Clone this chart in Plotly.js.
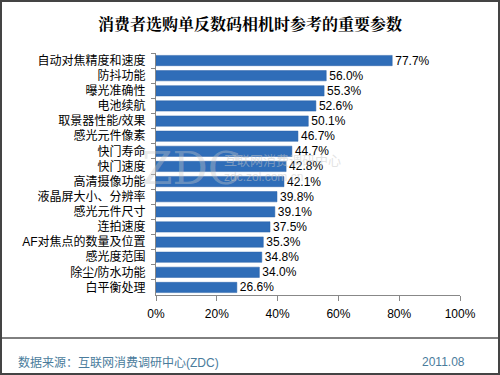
<!DOCTYPE html>
<html><head><meta charset="utf-8">
<script src="https://cdn.plot.ly/plotly-3.0.1.min.js"></script>
<style>html,body{margin:0;padding:0;background:#fff}#chart{width:500px;height:375px}</style>
</head><body><div id="chart"></div>
<script>
const categories = ["自动对焦精度和速度","防抖功能","曝光准确性","电池续航","取景器性能/效果","感光元件像素","快门寿命","快门速度","高清摄像功能","液晶屏大小、分辨率","感光元件尺寸","连拍速度","AF对焦点的数量及位置","感光度范围","除尘/防水功能","白平衡处理"];
const values = [77.7,56.0,55.3,52.6,50.1,46.7,44.7,42.8,42.1,39.8,39.1,37.5,35.3,34.8,34.0,26.6];
const xTickVals = [0,20,40,60,80,100];
const xTickText = ["0%","20%","40%","60%","80%","100%"];

const L=156, R=460, T=53, B=295;
const W=R-L, H=B-T;
const px=x=>(x-L)/W, py=y=>(B-y)/H;

const font = "Arial, 'Liberation Sans', 'Noto Sans CJK SC', sans-serif";
const trace = {
  type:'bar', orientation:'h',
  y:categories, x:values,
  marker:{color:'#2f6db8', line:{color:'#2a62a8', width:0.5}},
  text:values.map(v=>v.toFixed(1)+'%'),
  textposition:'outside', cliponaxis:false, constraintext:'none',
  textfont:{family:font,size:12,color:'#000'},
  hoverinfo:'none'
};
const layout = {
  width:500, height:375,
  margin:{l:L, r:500-R, t:T, b:375-B},
  paper_bgcolor:'#fff', plot_bgcolor:'#fff',
  showlegend:false,
  bargap:0.32,
  title:{text:'<b>消费者选购单反数码相机时参考的重要参数</b>', font:{family:"'Noto Serif CJK SC','Noto Sans CJK SC', serif", size:16, color:'#000'}, x:0.5, xanchor:'center', y:1-24/375, yanchor:'middle'},
  xaxis:{range:[0,100], tickvals:xTickVals, ticktext:xTickText, showgrid:false, zeroline:false,
    showline:true, linecolor:'#888', linewidth:1, ticks:'outside', ticklen:5, tickcolor:'#888',
    tickfont:{family:font,size:12,color:'#000'}, ticklabelstandoff:3, fixedrange:true},
  yaxis:{autorange:'reversed', tickmode:'linear', dtick:1, showline:true, linecolor:'#888', linewidth:1, ticks:'outside', ticklen:4, tickcolor:'#888',
    tickson:'boundaries', tickfont:{family:font,size:12,color:'#000'}, showgrid:false, ticklabelstandoff:7, fixedrange:true},
  shapes:[
    {type:'rect', xref:'paper', yref:'paper', x0:px(1), x1:px(499), y0:py(1), y1:py(374), line:{color:'#444',width:2}, fillcolor:'rgba(0,0,0,0)'},
    {type:'line', xref:'paper', yref:'paper', x0:px(2), x1:px(498), y0:py(338), y1:py(338), line:{color:'#000',width:1}}
  ],
  annotations:[
    {xref:'paper', yref:'paper', x:px(16), y:py(362), xanchor:'left', yanchor:'middle', showarrow:false, text:'数据来源：互联网消费调研中心(ZDC)', font:{family:font,size:12,color:'#4a7c9c'}},
    {xref:'paper', yref:'paper', x:px(467), y:py(362), xanchor:'right', yanchor:'middle', showarrow:false, text:'2011.08', font:{family:font,size:12,color:'#4a7c9c'}},
    {xref:'paper', yref:'paper', x:px(140), y:py(168), xanchor:'left', yanchor:'middle', showarrow:false, text:'ZDC', font:{family:"'DejaVu Serif', serif",size:44,color:'rgba(200,200,200,0.4)'}},
    {xref:'paper', yref:'paper', x:px(222), y:py(160), xanchor:'left', yanchor:'middle', showarrow:false, text:'互联网消费调研中心', font:{family:font,size:13,color:'rgba(200,200,200,0.5)'}},
    {xref:'paper', yref:'paper', x:px(222), y:py(177), xanchor:'left', yanchor:'middle', showarrow:false, text:'zdc.zol.com.cn', font:{family:font,size:12,color:'rgba(200,200,200,0.5)'}}
  ]
};
Plotly.newPlot('chart',[trace],layout,{displayModeBar:false,staticPlot:true});
</script></body></html>
